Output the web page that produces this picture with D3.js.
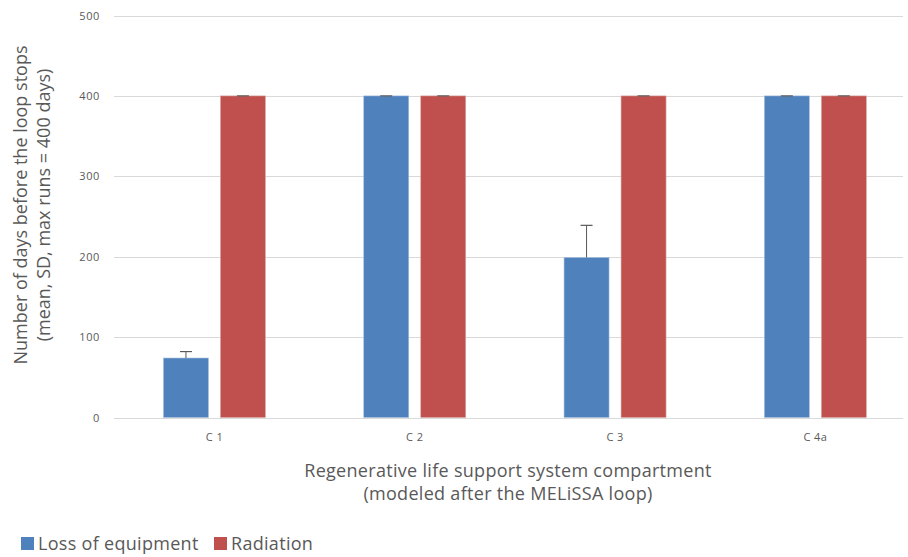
<!DOCTYPE html>
<html>
<head>
<meta charset="utf-8">
<script src="https://cdn.jsdelivr.net/npm/d3@7"></script>
<style>
  body { margin: 0; background: #fff; }
  text { font-family: "Open Sans", "Noto Sans", sans-serif; fill: #595959; }
</style>
</head>
<body>
<script>
var categories = ['C 1', 'C 2', 'C 3', 'C 4a'];
var seriesNames = ['Loss of equipment', 'Radiation'];
var lossMean = [74, 400, 199, 400];
var lossSD = [8, 0, 40, 0];
var radMean = [400, 400, 400, 400];
var radSD = [0, 0, 0, 0];
var yTicks = [0, 100, 200, 300, 400, 500];
var colors = ['#4F81BD', '#C0504D'];

var width = 908, height = 557;
var plot = {left: 114, right: 903, top: 15.5, bottom: 417.5};

var svg = d3.select('body').append('svg')
    .attr('width', width)
    .attr('height', height);

// category centres sit ~200px apart, first at ~214
var x0 = d3.scaleBand()
    .domain(categories)
    .range([114.3, 915.5]);

var y = d3.scaleLinear()
    .domain([0, 500])
    .range([plot.bottom, plot.top]);

var barW = 45, gap = 12;

// gridlines
svg.append('g').selectAll('line')
    .data(yTicks)
    .enter().append('line')
    .attr('x1', plot.left).attr('x2', plot.right)
    .attr('y1', function(d) { return Math.round(y(d)) + 0.5; })
    .attr('y2', function(d) { return Math.round(y(d)) + 0.5; })
    .style('stroke', '#d9d9d9')
    .style('stroke-width', 1);

// y tick labels
svg.append('g').selectAll('text')
    .data(yTicks)
    .enter().append('text')
    .attr('x', 100)
    .attr('y', function(d) { return y(d) + 4; })
    .attr('text-anchor', 'end')
    .style('font-size', '11px')
    .style('letter-spacing', '0.6px')
    .text(function(d) { return d; });

var data = [];
categories.forEach(function(c, i) {
    data.push({cat: c, s: 0, v: lossMean[i], sd: lossSD[i]});
    data.push({cat: c, s: 1, v: radMean[i], sd: radSD[i]});
});

function barX(d) {
    var mid = x0(d.cat) + x0.bandwidth() / 2;
    return d.s === 0 ? mid - gap / 2 - barW : mid + gap / 2;
}

svg.append('g').selectAll('rect')
    .data(data)
    .enter().append('rect')
    .attr('x', barX)
    .attr('y', function(d) { return y(d.v); })
    .attr('width', barW)
    .attr('height', function(d) { return y(0) - y(d.v); })
    .style('fill', function(d) { return colors[d.s]; })
    .style('stroke', function(d) { return d.s === 0 ? '#a7c0de' : '#dba9a7'; })
    .style('stroke-width', 0.6);

// error bars (plus only)
var err = svg.append('g');
data.forEach(function(d) {
    var cx = barX(d) + barW / 2;
    var top = y(d.v + d.sd);
    if (d.sd > 0) {
        err.append('line')
            .attr('x1', cx).attr('x2', cx)
            .attr('y1', y(d.v)).attr('y2', top)
            .style('stroke', '#595959').style('stroke-width', 1);
    }
    err.append('line')
        .attr('x1', cx - 6).attr('x2', cx + 6)
        .attr('y1', top).attr('y2', top)
        .style('stroke', '#595959').style('stroke-width', 1.2);
});

// category labels
svg.append('g').selectAll('text')
    .data(categories)
    .enter().append('text')
    .attr('x', function(d) { return x0(d) + x0.bandwidth() / 2; })
    .attr('y', 441)
    .attr('text-anchor', 'middle')
    .style('font-size', '11px')
    .style('letter-spacing', '0.4px')
    .text(function(d) { return d; });

// axis titles
var xt = svg.append('text')
    .attr('text-anchor', 'middle')
    .style('font-size', '18px')
    .style('letter-spacing', '0.3px');
xt.append('tspan').attr('x', 508).attr('y', 477).text('Regenerative life support system compartment');
xt.append('tspan').attr('x', 508).attr('y', 500).text('(modeled after the MELiSSA loop)');

var yt = svg.append('text')
    .attr('transform', 'translate(0,' + 205 + ') rotate(-90)')
    .attr('text-anchor', 'middle')
    .style('font-size', '18px');
yt.append('tspan').attr('x', 0).attr('y', 27).text('Number of days before the loop stops');
yt.append('tspan').attr('x', 0).attr('y', 50).text('(mean, SD, max runs = 400 days)');

// legend
var leg = svg.append('g');
var legX = [21, 214];
seriesNames.forEach(function(n, i) {
    leg.append('rect')
        .attr('x', legX[i]).attr('y', 537)
        .attr('width', 13).attr('height', 13)
        .style('fill', colors[i]);
    leg.append('text')
        .attr('x', legX[i] + 17).attr('y', 550)
        .style('font-size', '18px')
        .style('letter-spacing', '0.3px')
        .text(n);
});
</script>
</body>
</html>
